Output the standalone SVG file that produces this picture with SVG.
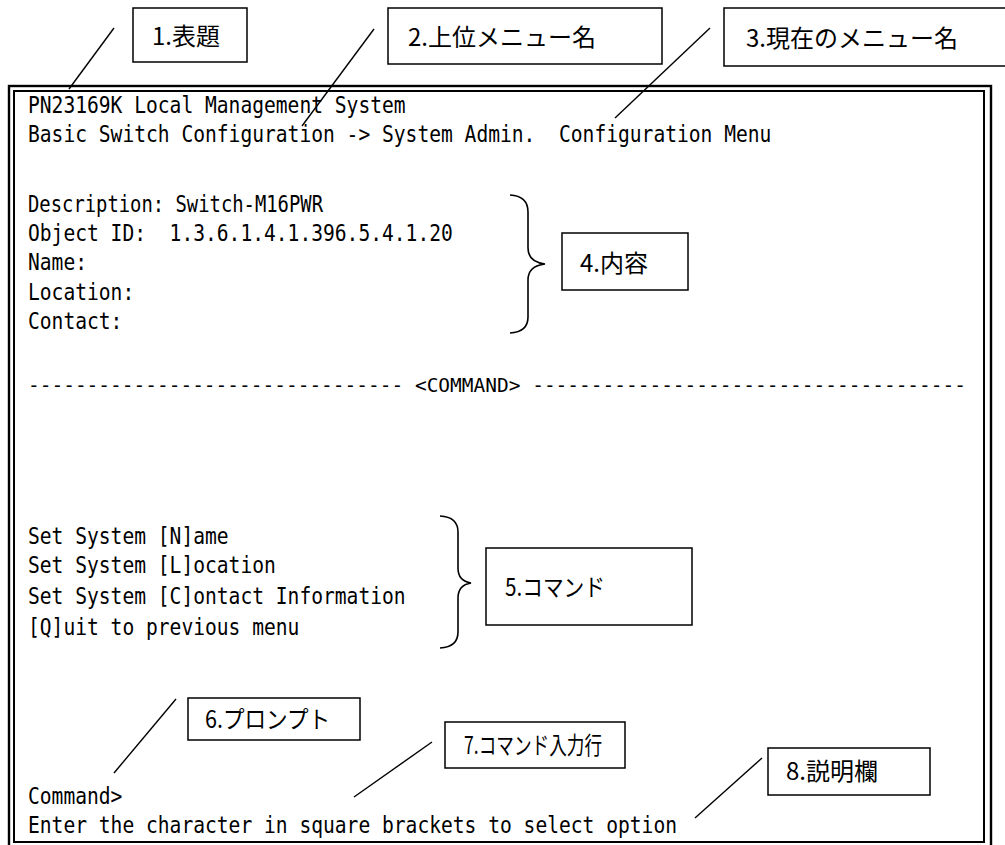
<svg xmlns="http://www.w3.org/2000/svg" width="1005" height="845" viewBox="0 0 1005 845">
<style>
.term{font-family:"DejaVu Sans Mono","Liberation Mono",monospace;font-size:23px;fill:#000;white-space:pre}
.dash{font-size:19.6px}
.lbl{font-family:"Noto Sans CJK JP","Noto Sans",sans-serif;font-size:24px;fill:#000}
.box{fill:#fff;stroke:#000;stroke-width:1.5}
.ln{stroke:#000;stroke-width:1.4;fill:none}
.brace{stroke:#000;stroke-width:1.6;fill:none}
</style>
<rect width="1005" height="845" fill="#fff"/>
<g id="terminal">
<rect x="9" y="86" width="982" height="762" fill="none" stroke="#000" stroke-width="2.4"/>
<rect x="14" y="91" width="970" height="751" fill="none" stroke="#000" stroke-width="2"/>
<text class="term" x="28" y="113" textLength="377.6" lengthAdjust="spacingAndGlyphs">PN23169K Local Management System</text>
<text class="term" x="28" y="142" textLength="743.4" lengthAdjust="spacingAndGlyphs">Basic Switch Configuration -&gt; System Admin.  Configuration Menu</text>
<text class="term" x="28" y="212" textLength="295" lengthAdjust="spacingAndGlyphs">Description: Switch-M16PWR</text>
<text class="term" x="28" y="241" textLength="424.8" lengthAdjust="spacingAndGlyphs">Object ID:  1.3.6.1.4.1.396.5.4.1.20</text>
<text class="term" x="28" y="270" textLength="59" lengthAdjust="spacingAndGlyphs">Name:</text>
<text class="term" x="28" y="300" textLength="106.2" lengthAdjust="spacingAndGlyphs">Location:</text>
<text class="term" x="28" y="329" textLength="94.4" lengthAdjust="spacingAndGlyphs">Contact:</text>
<text class="term dash" x="28" y="392" textLength="938" lengthAdjust="spacingAndGlyphs">-------------------------------- &lt;COMMAND&gt; -------------------------------------</text>
<text class="term" x="28" y="544" textLength="200.6" lengthAdjust="spacingAndGlyphs">Set System [N]ame</text>
<text class="term" x="28" y="573" textLength="247.8" lengthAdjust="spacingAndGlyphs">Set System [L]ocation</text>
<text class="term" x="28" y="604" textLength="377.6" lengthAdjust="spacingAndGlyphs">Set System [C]ontact Information</text>
<text class="term" x="28" y="635" textLength="271.4" lengthAdjust="spacingAndGlyphs">[Q]uit to previous menu</text>
<text class="term" x="28" y="804" textLength="94.4" lengthAdjust="spacingAndGlyphs">Command&gt;</text>
<text class="term" x="28" y="833" textLength="649" lengthAdjust="spacingAndGlyphs">Enter the character in square brackets to select option</text>
</g>
<g id="connectors">
<line class="ln" x1="114" y1="28" x2="69" y2="89"/>
<line class="ln" x1="374" y1="29" x2="302" y2="126"/>
<line class="ln" x1="710" y1="28" x2="615" y2="118"/>
<path class="brace" d="M510,195 Q528,196 528,212 L528,248 Q528,262 545,264 Q528,266 528,280 L528,317 Q528,332 510,333"/>
<path class="brace" d="M440,516 Q458,517 458,532 L458,568 Q458,581 471,583 Q458,585 458,598 L458,632 Q458,647 440,648"/>
<line class="ln" x1="176" y1="699" x2="114" y2="773"/>
<line class="ln" x1="432" y1="742" x2="354" y2="797"/>
<line class="ln" x1="762" y1="758" x2="695" y2="818"/>
</g>
<g id="n1"><rect class="box" x="133" y="8" width="114" height="54"/><text class="lbl" x="152" y="45">1.表題</text></g>
<g id="n2"><rect class="box" x="388" y="8" width="274" height="56"/><text class="lbl" x="408" y="46">2.上位メニュー名</text></g>
<g id="n3"><rect class="box" x="724" y="8" width="295" height="58"/><text class="lbl" x="746" y="47">3.現在のメニュー名</text></g>
<g id="n4"><rect class="box" x="562" y="233" width="126" height="57"/><text class="lbl" x="580" y="272">4.内容</text></g>
<g id="n5"><rect class="box" x="486" y="548" width="206" height="77"/><text class="lbl" x="505" y="596" textLength="100" lengthAdjust="spacingAndGlyphs">5.コマンド</text></g>
<g id="n6"><rect class="box" x="188" y="698" width="172" height="42"/><text class="lbl" x="205" y="728" textLength="125" lengthAdjust="spacingAndGlyphs">6.プロンプト</text></g>
<g id="n7"><rect class="box" x="445" y="722" width="180" height="46"/><text class="lbl" x="464" y="754" textLength="138" lengthAdjust="spacingAndGlyphs">7.コマンド入力行</text></g>
<g id="n8"><rect class="box" x="768" y="748" width="162" height="47"/><text class="lbl" x="786" y="780">8.説明欄</text></g>
</svg>
